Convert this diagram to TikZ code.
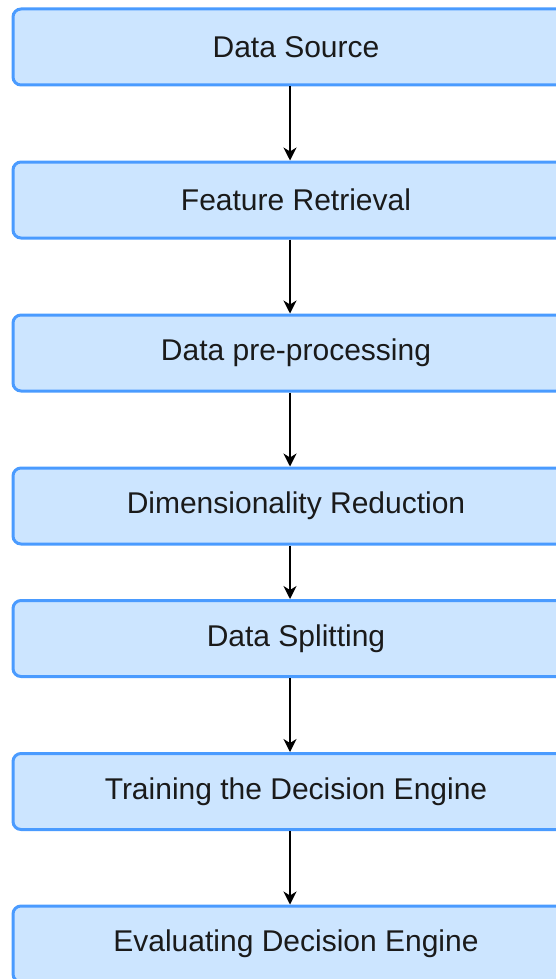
\documentclass[tikz,border=0pt]{standalone}
\usepackage{fontspec}
\setmainfont{Liberation Sans}
\usetikzlibrary{arrows.meta}
\definecolor{boxfill}{HTML}{CCE5FF}
\definecolor{boxline}{HTML}{4A9BFF}
\definecolor{txt}{HTML}{1A1A1A}
\begin{document}
\begin{tikzpicture}[x=1pt,y=-1pt,
  stepbox/.style={draw=boxline, fill=boxfill, line width=3pt, rounded corners=8pt,
    minimum width=566pt, minimum height=76pt, inner sep=0pt, text=txt,
    font=\fontsize{30}{36}\selectfont},
  flow/.style={line width=1.6pt, -{Stealth[length=13pt,width=13pt,inset=4pt]}}]
\useasboundingbox (0,0) rectangle (556,979);
\node[stepbox] (s1) at (296,47) {Data Source};
\node[stepbox] (s2) at (296,200) {Feature Retrieval};
\node[stepbox] (s3) at (296,353) {Data pre-processing};
\node[stepbox] (s4) at (296,506) {Dimensionality Reduction};
\node[stepbox] (s5) at (296,638.5) {Data Splitting};
\node[stepbox] (s6) at (296,791.5) {Training the Decision Engine};
\node[stepbox] (s7) at (296,944) {Evaluating Decision Engine};
\foreach \a/\b in {s1/s2,s2/s3,s3/s4,s4/s5,s5/s6,s6/s7}
  \draw[flow] ([xshift=-6pt]\a.south) -- ([xshift=-6pt]\b.north);
\end{tikzpicture}
\end{document}
